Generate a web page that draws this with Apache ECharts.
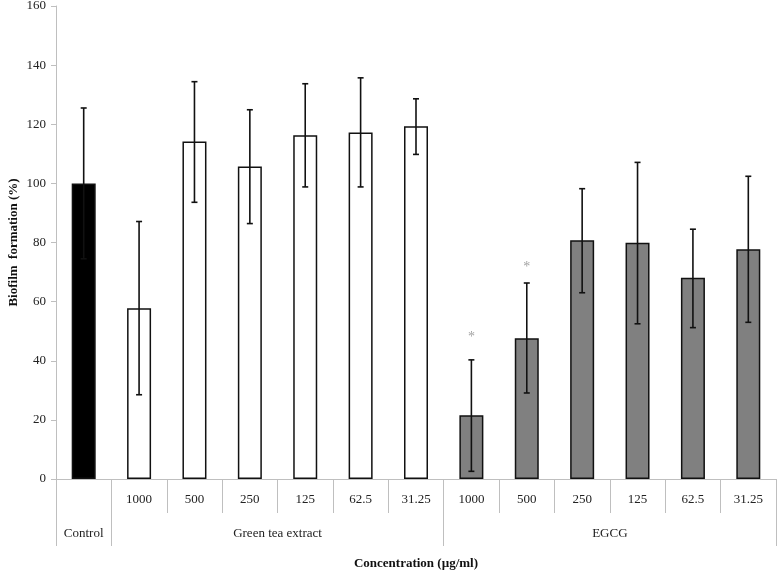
<!DOCTYPE html>
<html>
<head>
<meta charset="utf-8">
<script src="https://cdn.jsdelivr.net/npm/echarts@6/dist/echarts.min.js"></script>
<style>html,body{margin:0;padding:0;background:#fff}#c{width:778px;height:574px}</style>
</head>
<body>
<div id="c"></div>
<script>
// ---- data ----
const concentrations = ['', '1000', '500', '250', '125', '62.5', '31.25', '1000', '500', '250', '125', '62.5', '31.25'];
const groupNames = ['Control', 'Green tea extract', 'EGCG'];
const groupOf = [0, 1, 1, 1, 1, 1, 1, 2, 2, 2, 2, 2, 2];
const groupBounds = [0, 1, 7, 13];
const means = [100, 57.8, 114.2, 105.7, 116.3, 117.2, 119.3, 21.6, 47.6, 80.8, 79.9, 68.1, 77.7];
const errLow = [74.5, 28.5, 93.6, 86.4, 98.8, 98.8, 109.8, 2.6, 29.1, 63.0, 52.5, 51.2, 53.0];
const errHigh = [125.5, 87.1, 134.4, 124.9, 133.7, 135.7, 128.6, 40.3, 66.3, 98.2, 107.1, 84.5, 102.4];
const asterisks = [[7, 47.8], [8, 71.6]];
const yTicks = { min: 0, max: 160, interval: 20 };

const groupFill = ['#000000', '#ffffff', '#808080'];
const serif = 'Liberation Serif';
const gray = '#bfbfbf';

const chart = echarts.init(document.getElementById('c'), null, { renderer: 'canvas' });

const barData = means.map((v, i) => ({
  value: v,
  itemStyle: { color: groupFill[groupOf[i]], borderColor: '#111', borderWidth: 1.5 }
}));
const errData = means.map((v, i) => [i, errLow[i], errHigh[i]]);

const groupCenters = [];
for (let g = 0; g < groupNames.length; g++) groupCenters.push((groupBounds[g] + groupBounds[g + 1]) / 2);

chart.setOption({
  animation: false,
  grid: { left: 56, right: 2, top: 6, bottom: 95, containLabel: false, outerBoundsMode: 'none' },
  xAxis: [
    {
      type: 'category',
      data: concentrations,
      position: 'bottom',
      axisLine: { show: true, lineStyle: { color: gray, width: 1 } },
      axisTick: { show: true, interval: 0, length: 34, lineStyle: { color: gray } },
      axisLabel: { interval: 0, margin: 14, fontFamily: serif, fontSize: 13, color: '#222' },
      splitLine: { show: false }
    },
    {
      type: 'value',
      min: 0, max: 13,
      position: 'bottom',
      axisLine: { show: false },
      axisTick: { show: true, length: 67, customValues: groupBounds, lineStyle: { color: gray } },
      axisLabel: {
        show: true, margin: 48, fontFamily: serif, fontSize: 13, color: '#222',
        customValues: groupCenters,
        formatter: function (v) {
          const idx = groupCenters.findIndex(c => Math.abs(c - v) < 1e-6);
          return idx >= 0 ? groupNames[idx] : '';
        }
      },
      splitLine: { show: false },
      name: 'Concentration (\u00b5g/ml)',
      nameLocation: 'middle',
      nameGap: 78,
      nameMoveOverlap: false,
      nameTextStyle: { fontFamily: serif, fontSize: 13, fontWeight: 'bold', color: '#111' }
    }
  ],
  yAxis: {
    type: 'value',
    min: yTicks.min, max: yTicks.max, interval: yTicks.interval,
    axisLine: { show: true, lineStyle: { color: gray } },
    axisTick: { show: true, length: 5, lineStyle: { color: gray } },
    axisLabel: { margin: 10, fontFamily: serif, fontSize: 13, color: '#222' },
    splitLine: { show: false },
    name: 'Biofilm  formation (%)',
    nameLocation: 'middle',
    nameGap: 36,
    nameMoveOverlap: false,
    nameTextStyle: { fontFamily: serif, fontSize: 13, fontWeight: 'bold', color: '#111' }
  },
  series: [
    {
      type: 'bar',
      xAxisIndex: 0,
      data: barData,
      barWidth: 24
    },
    {
      type: 'custom',
      xAxisIndex: 0,
      data: errData,
      z: 5,
      renderItem: function (params, api) {
        const x = api.value(0);
        const lo = api.coord([x, api.value(1)]);
        const hi = api.coord([x, api.value(2)]);
        const w = 3;
        const style = { stroke: '#111', lineWidth: 1.6 };
        return {
          type: 'group',
          children: [
            { type: 'line', shape: { x1: lo[0], y1: lo[1], x2: hi[0], y2: hi[1] }, style: style },
            { type: 'line', shape: { x1: hi[0] - w, y1: hi[1], x2: hi[0] + w, y2: hi[1] }, style: style },
            { type: 'line', shape: { x1: lo[0] - w, y1: lo[1], x2: lo[0] + w, y2: lo[1] }, style: style }
          ]
        };
      }
    },
    {
      type: 'scatter',
      xAxisIndex: 0,
      data: asterisks,
      symbolSize: 0,
      label: {
        show: true, position: 'inside', formatter: '*',
        fontFamily: serif, fontSize: 14, color: '#8a8a8a'
      }
    }
  ]
});
</script>
</body>
</html>
